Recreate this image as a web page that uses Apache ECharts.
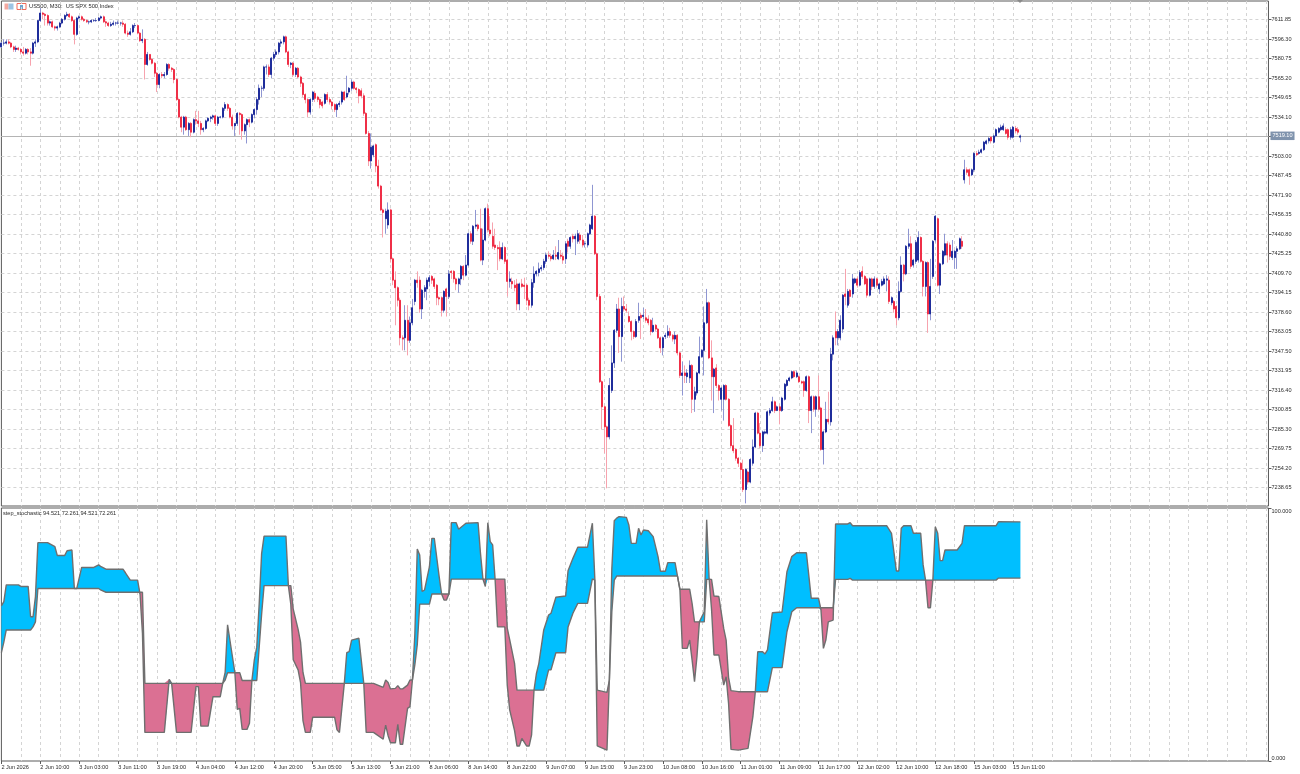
<!DOCTYPE html>
<html>
<head>
<meta charset="utf-8">
<title>US500, M30</title>
<style>
	html,body{margin:0;padding:0;background:#fff;}
	#chart{width:1300px;height:774px;}
</style>
<script src="https://cdn.jsdelivr.net/npm/echarts@6/dist/echarts.min.js"></script>
</head>
<body>
<div id="chart"></div>
<script>
//上图 K线，每行 20 根
var opens = [
7590,7593,7593,7594,7593,7590,7588,7589,7588,7586,7585,7588,7586,7585,7593,7594,7611,7617,7616,7615,
7609,7610,7606,7605,7606,7609,7612,7615,7616,7614,7611,7600,7613,7614,7612,7611,7610,7610,7611,7611,
7611,7613,7614,7610,7609,7607,7608,7609,7609,7609,7609,7608,7601,7600,7602,7607,7607,7601,7595,7596,
7576,7584,7580,7577,7569,7560,7568,7567,7568,7576,7573,7572,7564,7548,7534,7526,7534,7524,7529,7522,
7532,7531,7529,7524,7525,7531,7533,7534,7535,7529,7534,7534,7541,7544,7541,7534,7527,7529,7537,7536,
7523,7528,7532,7530,7536,7540,7548,7557,7557,7574,7574,7568,7581,7584,7586,7593,7594,7598,7586,7576,
7577,7568,7573,7566,7561,7552,7548,7538,7548,7553,7550,7548,7546,7545,7552,7548,7546,7544,7540,7544,
7546,7554,7550,7554,7557,7562,7557,7556,7555,7551,7537,7521,7499,7504,7512,7495,7479,7460,7453,7448,
7460,7421,7404,7398,7388,7358,7358,7372,7356,7370,7387,7404,7404,7381,7395,7397,7403,7407,7405,7400,
7390,7390,7380,7397,7391,7411,7411,7405,7401,7405,7415,7408,7416,7441,7435,7447,7448,7445,7420,7436,
7461,7444,7439,7432,7430,7430,7421,7430,7420,7403,7403,7400,7401,7385,7401,7400,7400,7388,7384,7402,
7409,7410,7413,7414,7419,7424,7423,7421,7424,7421,7424,7423,7421,7435,7431,7439,7437,7435,7440,7436,
7433,7432,7441,7445,7455,7425,7391,7323,7303,7287,7279,7316,7338,7364,7381,7359,7383,7381,7375,7371,
7363,7359,7372,7376,7375,7374,7373,7372,7363,7368,7365,7358,7350,7359,7360,7363,7360,7357,7360,7346,
7328,7330,7327,7326,7336,7309,7314,7330,7343,7348,7370,7386,7342,7327,7334,7320,7309,7309,7320,7309,
7288,7272,7269,7262,7258,7253,7237,7251,7243,7258,7271,7298,7282,7272,7282,7282,7298,7300,7307,7300,
7303,7300,7309,7320,7324,7326,7331,7327,7327,7323,7323,7316,7327,7300,7311,7301,7311,7302,7269,7283,
7293,7291,7345,7363,7358,7358,7365,7393,7384,7396,7393,7402,7405,7400,7411,7407,7405,7392,7405,7399,
7405,7397,7400,7401,7404,7404,7386,7387,7383,7374,7395,7416,7409,7431,7433,7416,7419,7420,7438,7419,
7399,7418,7377,7407,7436,7453,7400,7417,7424,7433,7432,7422,7422,7427,7429,7435,7484,7492,7492,7488,
7492,7505,7505,7506,7508,7513,7515,7518,7514,7519,7522,7524,7524,7524,7524,7518,7518,7525,7524,7518
];
var closes = [
7593,7593,7594,7593,7590,7588,7589,7588,7586,7585,7588,7586,7585,7593,7594,7611,7617,7616,7615,7609,
7610,7606,7605,7606,7609,7612,7615,7616,7614,7611,7600,7613,7614,7612,7611,7610,7610,7611,7611,7611,
7613,7614,7610,7609,7607,7608,7609,7609,7609,7609,7608,7601,7600,7602,7607,7607,7601,7595,7596,7576,
7584,7580,7577,7569,7560,7568,7567,7568,7576,7573,7572,7564,7548,7534,7526,7534,7524,7529,7522,7532,
7531,7529,7524,7525,7531,7533,7534,7535,7529,7534,7534,7541,7544,7541,7534,7527,7529,7537,7536,7523,
7528,7532,7530,7536,7540,7548,7557,7557,7574,7574,7568,7581,7584,7586,7593,7594,7598,7586,7576,7577,
7568,7573,7566,7561,7552,7548,7538,7548,7554,7549,7548,7544,7543,7552,7548,7546,7543,7540,7544,7545,
7554,7548,7553,7557,7562,7557,7556,7551,7551,7537,7521,7499,7510,7511,7495,7479,7460,7458,7459,7460,
7421,7404,7398,7388,7358,7357,7372,7356,7370,7382,7404,7402,7381,7396,7398,7404,7406,7404,7399,7390,
7389,7380,7395,7391,7409,7410,7405,7401,7405,7415,7408,7416,7441,7435,7447,7448,7445,7420,7436,7461,
7444,7441,7431,7430,7429,7421,7430,7419,7403,7405,7401,7398,7385,7401,7399,7399,7388,7384,7402,7409,
7411,7413,7414,7419,7424,7423,7421,7424,7423,7426,7423,7420,7433,7431,7438,7437,7439,7441,7436,7432,
7433,7441,7448,7455,7425,7391,7323,7303,7287,7279,7320,7338,7364,7381,7359,7383,7381,7380,7371,7363,
7359,7371,7375,7374,7376,7372,7370,7363,7368,7365,7358,7350,7358,7360,7363,7360,7357,7360,7346,7328,
7330,7328,7330,7336,7309,7315,7330,7343,7348,7370,7386,7342,7327,7333,7320,7316,7318,7320,7309,7288,
7272,7268,7262,7258,7253,7237,7253,7243,7261,7271,7298,7282,7272,7283,7283,7299,7300,7307,7300,7303,
7300,7310,7321,7324,7326,7331,7327,7330,7323,7322,7316,7327,7300,7311,7301,7311,7301,7269,7283,7293,
7291,7345,7358,7358,7363,7372,7392,7391,7395,7391,7405,7405,7400,7410,7407,7401,7392,7405,7399,7405,
7400,7401,7403,7405,7405,7387,7390,7381,7374,7395,7416,7409,7431,7433,7415,7420,7434,7438,7419,7399,
7418,7377,7399,7435,7455,7400,7417,7427,7433,7424,7423,7427,7427,7429,7437,7431,7492,7490,7487,7492,
7505,7504,7506,7508,7514,7515,7517,7515,7519,7524,7525,7526,7527,7521,7518,7524,7526,7523,7522,7519
];
var highs = [
7594,7596,7596,7596,7594,7591,7591,7590,7589,7590,7589,7589,7589,7594,7596,7611,7621,7618,7617,7616,
7611,7611,7607,7607,7610,7613,7616,7618,7617,7615,7612,7614,7615,7615,7613,7612,7611,7612,7612,7613,
7614,7615,7615,7611,7610,7610,7611,7610,7611,7610,7611,7609,7603,7605,7608,7609,7608,7602,7604,7597,
7586,7584,7581,7578,7570,7569,7570,7570,7577,7577,7574,7573,7565,7549,7535,7535,7535,7530,7530,7533,
7539,7539,7531,7526,7532,7534,7535,7536,7536,7535,7535,7542,7546,7545,7542,7536,7529,7538,7538,7537,
7529,7533,7533,7537,7541,7550,7560,7559,7575,7576,7576,7582,7586,7588,7594,7596,7599,7599,7587,7578,
7578,7574,7574,7567,7562,7553,7549,7549,7555,7555,7551,7549,7547,7553,7554,7550,7547,7545,7545,7547,
7555,7555,7567,7558,7564,7563,7558,7557,7557,7553,7538,7523,7521,7512,7513,7500,7480,7461,7461,7466,
7461,7422,7411,7399,7390,7360,7384,7384,7375,7389,7405,7411,7407,7397,7400,7406,7408,7408,7406,7401,
7391,7391,7396,7398,7412,7412,7412,7406,7406,7416,7416,7424,7442,7443,7448,7460,7449,7461,7445,7462,
7465,7455,7450,7445,7432,7435,7434,7431,7421,7411,7406,7404,7405,7402,7405,7406,7401,7390,7405,7415,
7412,7418,7416,7421,7426,7427,7425,7428,7431,7436,7428,7426,7435,7437,7439,7441,7441,7444,7442,7440,
7435,7442,7449,7480,7456,7426,7393,7324,7304,7288,7326,7352,7365,7385,7390,7390,7391,7385,7379,7372,
7364,7373,7386,7378,7382,7381,7376,7373,7374,7369,7366,7359,7359,7362,7368,7366,7361,7363,7361,7347,
7339,7336,7333,7340,7337,7319,7331,7359,7349,7383,7397,7387,7356,7334,7337,7321,7319,7321,7321,7310,
7289,7294,7270,7263,7259,7261,7254,7252,7262,7277,7299,7299,7290,7284,7284,7300,7302,7311,7308,7304,
7305,7311,7322,7325,7327,7332,7332,7332,7328,7324,7324,7328,7328,7312,7312,7312,7328,7303,7284,7307,
7315,7350,7360,7379,7365,7376,7393,7413,7397,7397,7409,7406,7407,7412,7415,7408,7406,7406,7406,7407,
7406,7402,7405,7407,7408,7407,7391,7388,7384,7403,7423,7417,7432,7445,7439,7421,7436,7443,7439,7420,
7419,7419,7421,7436,7456,7454,7418,7428,7441,7435,7434,7436,7428,7431,7438,7439,7500,7494,7493,7493,
7506,7507,7508,7509,7515,7516,7518,7519,7520,7525,7526,7528,7529,7526,7525,7526,7527,7527,7526,7520
];
var lows = [
7589,7591,7592,7592,7589,7586,7586,7587,7584,7583,7584,7584,7575,7584,7590,7593,7610,7612,7607,7607,
7607,7605,7603,7603,7605,7608,7611,7614,7613,7610,7592,7599,7612,7611,7610,7609,7608,7609,7610,7610,
7612,7612,7609,7606,7606,7606,7607,7607,7608,7607,7606,7600,7598,7599,7601,7605,7600,7594,7593,7564,
7575,7579,7576,7566,7554,7557,7565,7565,7567,7571,7570,7561,7547,7533,7522,7520,7523,7519,7518,7521,
7528,7526,7520,7522,7524,7530,7530,7532,7527,7527,7533,7533,7539,7539,7533,7524,7519,7527,7520,7516,
7520,7513,7526,7529,7533,7536,7544,7550,7555,7568,7566,7565,7579,7582,7584,7590,7592,7585,7574,7573,
7566,7566,7565,7558,7550,7545,7534,7536,7546,7546,7546,7541,7541,7544,7546,7544,7540,7538,7534,7542,
7544,7547,7549,7552,7555,7556,7553,7545,7549,7535,7520,7495,7493,7502,7490,7477,7459,7438,7441,7445,
7418,7400,7368,7383,7352,7348,7348,7344,7354,7368,7384,7398,7378,7373,7390,7388,7399,7401,7397,7384,
7384,7375,7378,7375,7389,7405,7402,7396,7394,7400,7404,7407,7415,7433,7432,7445,7443,7419,7416,7435,
7442,7439,7429,7428,7412,7419,7420,7417,7391,7398,7397,7395,7380,7380,7398,7389,7384,7380,7382,7398,
7407,7407,7411,7412,7417,7421,7419,7420,7420,7420,7421,7417,7417,7426,7429,7434,7424,7433,7433,7430,
7430,7430,7440,7444,7424,7388,7322,7285,7266,7238,7277,7314,7334,7362,7346,7339,7379,7378,7370,7356,
7357,7358,7370,7357,7373,7370,7368,7360,7362,7363,7357,7346,7344,7357,7358,7358,7355,7353,7344,7326,
7312,7322,7322,7322,7298,7299,7312,7329,7342,7328,7369,7341,7308,7298,7318,7308,7300,7292,7308,7287,
7270,7266,7260,7255,7245,7235,7226,7241,7242,7256,7270,7281,7270,7267,7281,7281,7296,7299,7298,7300,
7289,7299,7308,7319,7323,7325,7326,7326,7322,7321,7311,7315,7290,7282,7299,7295,7300,7268,7257,7282,
7289,7288,7340,7352,7352,7356,7362,7384,7382,7385,7390,7401,7398,7399,7405,7400,7390,7391,7396,7397,
7398,7393,7399,7400,7395,7385,7384,7378,7368,7372,7394,7403,7408,7429,7413,7414,7417,7418,7418,7391,
7391,7362,7372,7405,7434,7399,7393,7416,7423,7418,7420,7420,7413,7413,7428,7429,7481,7488,7480,7487,
7490,7503,7504,7505,7507,7512,7513,7513,7513,7518,7521,7523,7523,7520,7516,7516,7517,7521,7520,7514
];

//下图 step_stochastic，转折点所在的K线序号及两条线的值
var stochBars = [
0,1,2,7,8,11,12,13,14,15,19,22,23,26,27,29,30,31,33,38,40,41,43,50,51,53,56,57,58,59,67,69,70,72,78,80,81,82,85,87,
90,91,92,93,95,96,97,98,99,101,102,103,104,105,106,107,108,117,118,119,120,122,123,124,125,127,128,137,138,139,
141,142,143,144,147,149,150,153,157,158,159,160,162,163,164,165,167,168,169,170,171,172,173,174,176,177,178,180,181,182,
183,184,185,187,188,191,196,197,198,199,200,201,202,203,204,207,208,209,211,212,213,214,216,217,218,219,220,221,223,225,
226,228,232,233,235,237,241,243,244,245,249,250,251,252,253,254,257,258,259,261,262,263,264,266,268,270,271,273,274,277,
278,279,280,282,283,284,285,286,287,289,290,291,292,293,295,297,298,299,300,303,307,309,310,311,313,314,315,317,321,323,
325,327,331,333,336,337,338,339,340,342,343,348,349,350,364,366,368,369,370,371,374,375,378,379,380,381,382,383,384,385,
386,387,388,393,395,396,409,410,419
];
var stochFast = [
61.3,63,69.6,69.6,69,69,57,57,65,86.3,86.3,84.7,81.2,81.2,83.1,83.4,68.2,68.2,76.5,76.5,77.5,76.8,75.8,75.8,74.4,71.5,71.5,66,50.5,11.3,11.3,32.3,30.7,11.3,11.3,29.4,29.4,13.8,13.8,25.4,
25.4,30.7,35,53.8,41.2,34.9,20.4,20.8,12.5,12.5,14.9,31.8,40,45,62,82,88.9,88.9,69.3,62,40,36,31,16,11.3,11.3,17.3,17.3,12.3,11.3,
30.7,42.8,43.2,47.8,48.5,30.7,11.3,11.3,8.6,14.2,10,7.2,7.2,14.5,6.6,6.6,20.8,21.5,32,50,83.8,81.4,67,67.6,76.8,88,88,72.9,66,63.6,
63.6,66,94.2,94.2,91.6,94,94.2,82,71.9,69,94.2,86.7,85.4,71.9,53,53,30,20.2,12,5.9,5.9,8.9,5.9,5.9,10.3,28,34.6,38.6,51.8,57.7,
58.4,64.7,65.2,75.2,80.1,84.5,84.5,94,72.2,6,4.3,32.7,76,95,96,96.6,96.3,93.3,86,86,92,89.3,91.3,91,88.7,80.8,75,75,78.4,78.4,
73.1,67.6,44.5,44.5,47.8,40,31.4,41.2,55,59,95.3,72.2,60,41.9,41.9,30,33.3,22.8,4.6,4.3,5,17.5,27.4,43.2,43.2,42.3,43.9,58.6,58.9,74.8,
80.8,82.3,82.3,64.3,64.3,59.7,44.5,47.8,55,55.7,93.7,93.7,94.2,93,93,90,75.1,75.1,92,93,93,90,90,77.5,71.5,60.6,60.6,71.5,92.6,90,
79.2,79.2,83.4,83.4,86,93,93,94.6,94.5
];
var stochSlow = [
42.8,47,51.8,51.8,51.8,51.8,51.8,53,55,68.2,68.2,68.2,68.2,68.2,68.2,68.2,68.2,68.2,68.2,68.2,68.2,67.5,66.7,66.7,66.7,66.7,66.7,66.7,66.7,30.7,30.7,30.7,30.7,30.7,30.7,30.7,30.7,30.7,30.7,30.7,
30.7,30.7,32,34.9,34.9,34.9,34.9,34.9,31.8,31.8,31.8,31.8,31.8,31.8,45,58,69.3,69.3,69.3,69.3,60,52,47,35,30.7,30.7,30.7,30.7,30.7,30.7,
30.7,30.7,30.7,30.7,30.7,30.7,30.7,30.7,29.1,32,31,28.5,28.7,29.8,28.5,28.5,30,32,32,38,46,62,62,62,62,66,66,66,66,66,
66,66,71.9,71.9,71.9,71.9,71.9,71.9,71.9,71.9,71.9,71.9,71.9,71.9,71.9,71.9,52.5,48,38.6,28,28,28,28,28,28,28,28,28,28,36,
36,42.8,42.8,53,58.4,62.3,62.3,72,71.5,28,27.1,32,59,71.5,73.1,73.1,73.1,73.1,73.1,73.1,73.1,73.1,73.1,73.1,73.1,73.1,73.1,73.1,73.1,73.1,
73.1,67.9,67.9,67.9,67.9,62.3,55,55,55,55,71.8,71.8,71.8,65.2,65,52.4,47.8,33,27.8,27.4,27.4,27.4,27.4,27.4,27.4,27.4,27.4,36.9,36.9,51.1,
59,60.6,60.6,60.6,60.6,60.6,60.6,60.6,60.6,60.6,71.8,71.8,72.2,71.5,71.5,71.5,71.5,71.5,71.5,71.5,71.5,71.5,71.5,71.5,71.5,71.5,71.5,71.5,71.5,71.5,
71.5,71.5,71.5,71.5,71.5,71.5,71.5,72.3,72.3
];

//坐标轴刻度
var priceTicks = [7611.85,7596.30,7580.75,7565.20,7549.65,7534.10,7518.55,7503.00,7487.45,7471.90,7456.35,7440.80,7425.25,7409.70,7394.15,7378.60,7363.05,7347.50,7331.95,7316.40,7300.85,7285.30,7269.75,7254.20,7238.65];
var priceLabels = [7611.85,7596.30,7580.75,7565.20,7549.65,7534.10,7503.00,7487.45,7471.90,7456.35,7440.80,7425.25,7409.70,7394.15,7378.60,7363.05,7347.50,7331.95,7316.40,7300.85,7285.30,7269.75,7254.20,7238.65];
var lastPrice = 7519.10;
var timeLabels = ['2 Jun 2026','2 Jun 10:00','3 Jun 03:00','3 Jun 11:00','3 Jun 19:00','4 Jun 04:00','4 Jun 12:00','4 Jun 20:00','5 Jun 05:00','5 Jun 13:00','5 Jun 21:00','8 Jun 06:00','8 Jun 14:00','8 Jun 22:00','9 Jun 07:00','9 Jun 15:00','9 Jun 23:00','10 Jun 08:00','10 Jun 16:00','11 Jun 01:00','11 Jun 09:00','11 Jun 17:00','12 Jun 02:00','12 Jun 10:00','12 Jun 18:00','15 Jun 03:00','15 Jun 11:00'];

var UP = '#1f2d9b', DOWN = '#ef2f47';
var FONT = '"Liberation Sans", sans-serif';

//横轴一直延伸到图表右边，后面的K线是空的
var categories = [];
for(var n=0;n<522;n++){
	categories.push(String(n));
}

var wickData = [], bodyData = [];
for(var i=0;i<closes.length;i++){
	wickData.push([opens[i],closes[i],lows[i],highs[i]]);
	bodyData.push([opens[i],closes[i],Math.min(opens[i],closes[i]),Math.max(opens[i],closes[i])]);
}

//填充带：底线 + 蓝色差值 + 粉色差值，叠加画出
var baseLine = [], cyanGap = [], pinkGap = [], fastLine = [], slowLine = [];
for(var k=0;k<stochBars.length;k++){
	var f = stochFast[k], s = stochSlow[k];
	baseLine.push([stochBars[k],Math.min(f,s)]);
	cyanGap.push([stochBars[k],Math.max(f-s,0)]);
	pinkGap.push([stochBars[k],Math.max(s-f,0)]);
	fastLine.push([stochBars[k],f]);
	slowLine.push([stochBars[k],s]);
}

function bandSeries(data,color){
	return {
		type:'line',xAxisIndex:1,yAxisIndex:1,stack:'band',data:data,
		showSymbol:false,silent:true,
		lineStyle:{width:0},
		areaStyle:color?{color:color,opacity:1}:undefined,
		itemStyle:{color:color||'#fff'},
		z:2
	};
}
function outlineSeries(data){
	return {
		type:'line',xAxisIndex:1,yAxisIndex:1,data:data,
		showSymbol:false,silent:true,
		lineStyle:{color:'#6f6f6f',width:1.4},
		z:3
	};
}

var gridLine = {show:true,lineStyle:{color:'#d4d4d4',width:1,type:[3,3]}};
var axisText = {fontFamily:FONT,fontSize:5.55,color:'#2b2b2b'};
function every8(idx){return idx>0 && idx%8===0;}
function everyLabel(idx){return idx%16===0 && idx/16<timeLabels.length;}

var myChart = echarts.init(document.getElementById('chart'),null,{renderer:'canvas'});
var option = {
	animation:false,
	backgroundColor:'#fff',
	title:[
		{text:'US500, M30:  US SPX 500 Index',left:29,top:3.5,padding:0,textStyle:{fontFamily:FONT,fontSize:5.75,fontWeight:'normal',color:'#2b2b2b'}},
		{text:'step_stochastic 94.521 72.261 94.521 72.261',left:3,top:510.5,padding:0,textStyle:{fontFamily:FONT,fontSize:5.6,fontWeight:'normal',color:'#2b2b2b'}}
	],
	grid:[
		{left:1.4,top:1,width:1267.07,height:505,outerBoundsMode:'none',show:true,borderColor:'#5a5a5a',borderWidth:1,backgroundColor:'#fff'},
		{left:1.4,top:508,width:1267.07,height:253,outerBoundsMode:'none',show:true,borderColor:'#5a5a5a',borderWidth:1,backgroundColor:'#fff'}
	],
	xAxis:[
		{type:'category',gridIndex:0,data:categories,boundaryGap:false,
			axisLine:{show:false},axisTick:{show:false},axisLabel:{show:false},
			splitLine:Object.assign({interval:every8},gridLine)},
		{type:'category',gridIndex:1,data:categories,boundaryGap:false,
			axisLine:{show:false},
			axisTick:{show:true,interval:everyLabel,length:3,lineStyle:{color:'#5a5a5a'}},
			axisLabel:Object.assign({interval:everyLabel,margin:3,align:'left',showMinLabel:true,
				formatter:function(v,idx){return timeLabels[idx/16]||'';}},axisText),
			splitLine:Object.assign({interval:every8},gridLine)}
	],
	yAxis:[
		{type:'value',gridIndex:0,position:'right',min:7223.9,max:7626.6,
			axisLine:{show:false},
			axisTick:{show:true,length:3,customValues:priceTicks,lineStyle:{color:'#5a5a5a'}},
			axisLabel:Object.assign({margin:3,customValues:priceLabels,
				formatter:function(v){return v.toFixed(2);}},axisText),
			splitLine:gridLine},
		{type:'value',gridIndex:1,position:'right',min:0,max:100,
			axisLine:{show:false},
			axisTick:{show:true,length:3,customValues:[0,100],lineStyle:{color:'#5a5a5a'}},
			axisLabel:Object.assign({margin:3,customValues:[0,100],verticalAlignMinLabel:'bottom',verticalAlignMaxLabel:'top',
				formatter:function(v){return v.toFixed(3);}},axisText),
			splitLine:{show:false}}
	],
	series:[
		{
			type:'candlestick',xAxisIndex:0,yAxisIndex:0,barWidth:1,data:wickData,silent:true,z:3,
			itemStyle:{color:'#8f96d2',color0:'#f7a3ae',borderColor:'#8f96d2',borderColor0:'#f7a3ae',borderColorDoji:'#8f96d2',borderWidth:1},
			markLine:{
				silent:true,symbol:'none',animation:false,z:1,
				lineStyle:{color:'#b4b4b4',width:1.2,type:'solid'},
				label:{show:true,position:'end',distance:2,fontFamily:FONT,fontSize:5.55,color:'#fff',
					backgroundColor:'#7f93ad',padding:[1.5,2,1,2],
					formatter:function(p){return p.value.toFixed(2);}},
				data:[{yAxis:lastPrice}]
			}
		},
		{
			type:'candlestick',xAxisIndex:0,yAxisIndex:0,barWidth:1.5,data:bodyData,silent:true,z:4,
			itemStyle:{color:UP,color0:DOWN,borderColor:UP,borderColor0:DOWN,borderColorDoji:UP,borderWidth:1}
		},
		bandSeries(baseLine,null),
		bandSeries(cyanGap,'#00bfff'),
		bandSeries(pinkGap,'#db7093'),
		outlineSeries(fastLine),
		outlineSeries(slowLine)
	],
	graphic:[
		//左上角两个小图标和顶部的移位标记
		{type:'rect',shape:{x:4.5,y:3.5,width:4,height:6},style:{fill:'#f4a9a0'},silent:true},
		{type:'rect',shape:{x:8.5,y:3.5,width:5,height:6},style:{fill:'#9cc4e4'},silent:true},
		{type:'rect',shape:{x:17,y:3.5,width:9,height:6},style:{fill:'#fff',stroke:'#ef6a5a',lineWidth:1},silent:true},
		{type:'rect',shape:{x:20,y:5,width:3,height:4},style:{fill:'#6fa3d0'},silent:true},
		{type:'polygon',shape:{points:[[1017,0],[1023,0],[1020,3]]},style:{fill:'#8a8a8a'},silent:true}
	]
};
myChart.setOption(option);
</script>
</body>
</html>
